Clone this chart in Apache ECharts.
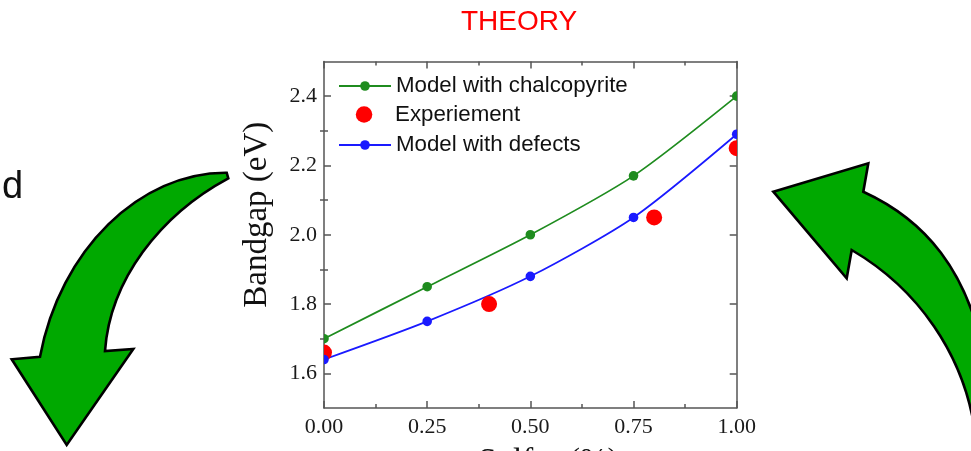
<!DOCTYPE html>
<html><head><meta charset="utf-8">
<script src="https://cdn.jsdelivr.net/npm/echarts@6/dist/echarts.min.js"></script>
<style>html,body{margin:0;padding:0;background:#fff}#c{width:971px;height:451px}</style>
</head><body><div id="c"></div>
<script>
// ---- data ----
const sulfur = [0, 0.25, 0.5, 0.75, 1.0];
const chalcopyrite = [1.70, 1.85, 2.00, 2.17, 2.40];
const defects = [1.64, 1.75, 1.88, 2.05, 2.29];
const expSulfur = [0, 0.4, 0.8, 1.0];
const expBandgap = [1.66, 1.80, 2.05, 2.25];
const yMajorTicks = [1.6, 1.8, 2.0, 2.2, 2.4];
const yMinorTicks = [1.7, 1.9, 2.1, 2.3];
const seriesNames = ['Model with chalcopyrite', 'Experiement', 'Model with defects'];

const GREEN = '#1f8c1f', BLUE = '#1a1aff', RED = '#ff0000', AXIS = '#555555';
const pairs = (xs, ys) => xs.map((x, i) => [x, ys[i]]);
const dotSeries = (name, data, color, r, z) => ({
  type: 'custom', name, data, clip: true, z,
  encode: { x: 0, y: 1 }, itemStyle: { color },
  renderItem: (params, api) => {
    const p = api.coord([api.value(0), api.value(1)]);
    return { type: 'circle', shape: { cx: p[0], cy: p[1], r }, style: { fill: color } };
  }
});
const serif = 'Liberation Serif';
const sans = 'Liberation Sans';
const yAx = (pos, ticks, len, opts) => Object.assign({
  type: 'value', position: pos, min: 1.5, max: 2.5,
  axisLine: { show: false },
  axisTick: { show: true, inside: true, length: len, customValues: ticks, lineStyle: { color: AXIS, width: 1.5 } },
  axisLabel: { show: false },
  splitLine: { show: false }
}, opts || {});
const xAx = (pos, opts) => Object.assign({
  type: 'value', position: pos, min: 0, max: 1, interval: 0.25,
  axisLine: { show: true, onZero: false, lineStyle: { color: AXIS, width: 1.5 } },
  axisTick: { show: true, inside: true, length: 7, lineStyle: { color: AXIS, width: 1.5 } },
  minorTick: { show: true, splitNumber: 2, length: 4, lineStyle: { color: AXIS, width: 1.5 } },
  axisLabel: { show: false },
  splitLine: { show: false }
}, opts || {});
const legendBase = (name, left, top, h, icon) => ({
  data: [icon ? { name, icon } : { name }],
  left, top, orient: 'vertical', padding: 0,
  itemWidth: 52, itemHeight: h, selectedMode: false,
  textStyle: { fontFamily: sans, fontSize: 22.3, color: '#111' }
});
const arrowPaths = [
  'M226.7 172.7 C140 172 60 250 40 356.7 L11.7 359.3 L66.7 445 L133.3 349 L105 351 C110 280 160 215 228.3 178.3 Z',
  'M773.3 191.7 L868.3 163.3 L863.3 191.7 C925 220 968 270 985 360 L1000 470 L980 470 L974 425 C962 355 920 290 851.7 250 L846.7 278.3 Z'
];

const chart = echarts.init(document.getElementById('c'), null, { renderer: 'canvas' });
chart.setOption({
  animation: false,
  backgroundColor: '#fff',
  title: { text: 'THEORY', left: 461, top: 8, padding: 0,
    textStyle: { color: RED, fontFamily: sans, fontSize: 28, fontWeight: 'normal' } },
  grid: { left: 324, top: 61.5, width: 412.7, height: 346.5, outerBoundsMode: 'none', containLabel: false },
  legend: [
    legendBase(seriesNames[0], 338, 75, 12),
    legendBase(seriesNames[1], 355.8, 103.5, 16.5, 'circle'),
    legendBase(seriesNames[2], 338, 134, 12)
  ],
  xAxis: [
    xAx('bottom', {
      name: 'Sulfur (%)', nameLocation: 'middle', nameGap: 38,
      nameTextStyle: { fontFamily: serif, fontSize: 33, color: '#111', padding: [0, 0, 0, 36] },
      axisLabel: { show: true, margin: 8, fontFamily: serif, fontSize: 22, color: '#1a1a1a',
        formatter: v => v.toFixed(2) }
    }),
    xAx('top')
  ],
  yAxis: [
    yAx('left', yMajorTicks, 7, {
      axisLine: { show: true, onZero: false, lineStyle: { color: AXIS, width: 1.5 } },
      name: 'Bandgap (eV)', nameLocation: 'middle', nameGap: 50,
      nameTextStyle: { fontFamily: serif, fontSize: 33, color: '#111', padding: [0, 0, 0, 40] },
      axisLabel: { show: true, customValues: yMajorTicks, margin: 7, fontFamily: serif, fontSize: 22, color: '#1a1a1a',
        formatter: v => v.toFixed(1) }
    }),
    yAx('left', yMinorTicks, 4),
    yAx('right', yMajorTicks, 7, {
      axisLine: { show: true, onZero: false, lineStyle: { color: AXIS, width: 1.5 } } }),
    yAx('right', yMinorTicks, 4)
  ],
  series: [
    { type: 'line', name: seriesNames[0], data: pairs(sulfur, chalcopyrite), smooth: 0.25,
      symbol: 'circle', showSymbol: false, z: 2,
      lineStyle: { color: GREEN, width: 1.7 }, itemStyle: { color: GREEN } },
    { type: 'line', name: seriesNames[2], data: pairs(sulfur, defects), smooth: 0.25,
      symbol: 'circle', showSymbol: false, z: 2,
      lineStyle: { color: BLUE, width: 1.7 }, itemStyle: { color: BLUE } },
    dotSeries(seriesNames[1], pairs(expSulfur, expBandgap), RED, 8, 3),
    dotSeries('chalcopyriteDots', pairs(sulfur, chalcopyrite), GREEN, 4.8, 4),
    dotSeries('defectsDots', pairs(sulfur, defects), BLUE, 4.8, 4),
    { type: 'custom', name: 'arrows', coordinateSystem: 'none', data: [0, 1], z: 1, silent: true,
      renderItem: (params) => ({
        type: 'path', shape: { pathData: arrowPaths[params.dataIndex] },
        style: { fill: '#00a900', stroke: '#000', lineWidth: 2.6, lineJoin: 'miter' }
      }) }
  ],
  graphic: [
    { type: 'text', left: 2, top: 169,
      style: { text: 'd', fontFamily: sans, fontSize: 38, fill: '#111' } }
  ]
});
</script></body></html>
